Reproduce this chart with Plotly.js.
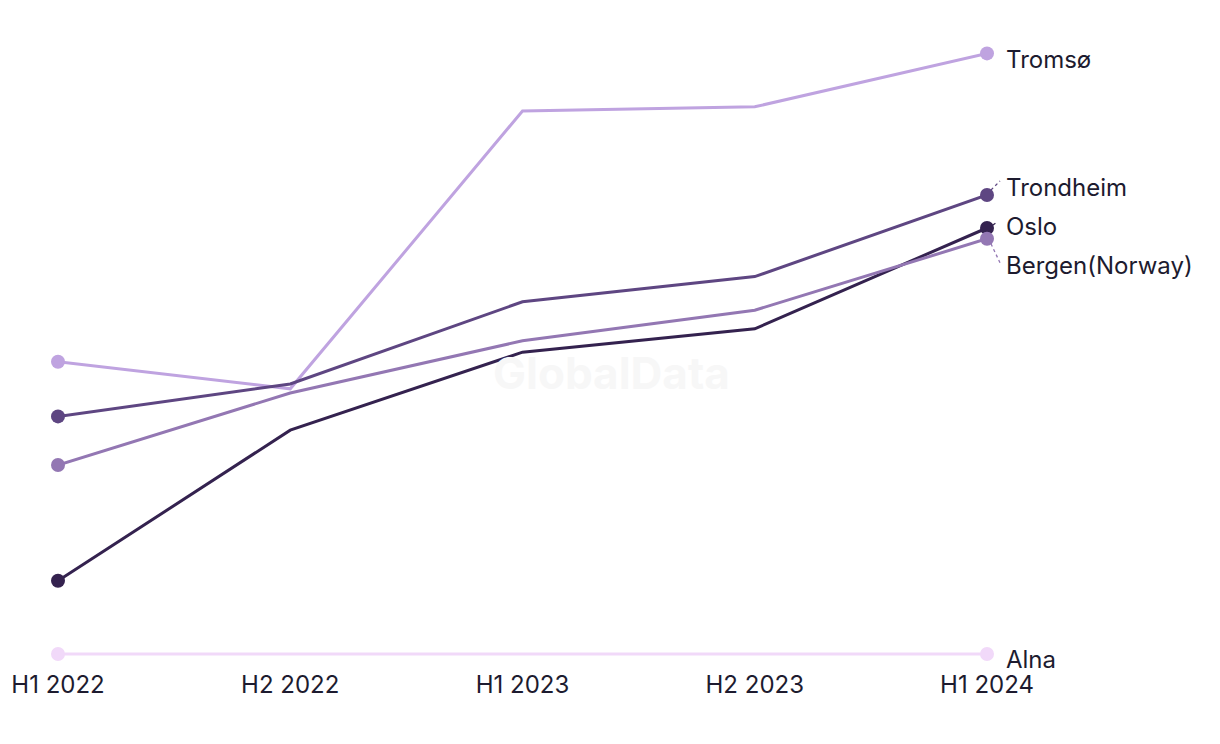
<!DOCTYPE html>
<html>
<head>
<meta charset="utf-8">
<script src="https://cdn.plot.ly/plotly-3.0.1.min.js"></script>
<style>
  html, body { margin: 0; padding: 0; background: #fff; }
  #plot { width: 1220px; height: 744px; }
</style>
</head>
<body>
<div id="plot"></div>
<script>
// half-year periods
var periods = ["H1 2022", "H2 2022", "H1 2023", "H2 2023", "H1 2024"];

// index values (no y axis shown)
var tromso    = [48.7, 44.2, 90.5, 91.2, 100.1];
var trondheim = [39.6, 45.0, 58.7, 62.9, 76.5];
var oslo      = [12.2, 37.3, 50.3, 54.2, 71.0];
var bergen    = [31.5, 43.5, 52.2, 57.3, 69.2];
var alna      = [0, 0, 0, 0, 0];

var names  = ["Tromsø", "Trondheim", "Oslo", "Bergen(Norway)", "Alna"];
var series = [tromso, trondheim, oslo, bergen, alna];
var colors = ["#bfa3e0", "#5e4682", "#34224f", "#9377b3", "#f1d9f9"];

// label nudges in px (positive = up) and whether a dotted leader is drawn
var labelShift = [-6, 8, 2, -27, -5];
var leader     = [false, true, true, true, false];

var FONT = "Inter, 'Noto Sans', sans-serif";
var last = periods.length - 1;
var traces = [];
var annotations = [];
var shapes = [];

series.forEach(function (vals, i) {
  traces.push({
    x: periods,
    y: vals,
    name: names[i],
    type: "scatter",
    mode: "lines+markers",
    line: { color: colors[i], width: 3 },
    marker: {
      color: colors[i],
      opacity: 1,
      line: { width: 0 },
      size: vals.map(function (v, j) { return (j === 0 || j === last) ? 14 : 0; })
    },
    cliponaxis: false,
    hoverinfo: "x+y+name"
  });

  annotations.push({
    x: last, y: vals[last], xref: "x", yref: "y",
    text: names[i], showarrow: false,
    xanchor: "left", yanchor: "middle",
    xshift: 17, yshift: labelShift[i],
    font: { family: FONT, size: 24, color: "#1d1b2f" }
  });

  // last category sits on the right edge of the plot area, so anchor on paper x = 1
  if (leader[i]) {
    var up = labelShift[i] > 0;
    var big = Math.abs(labelShift[i]) > 5;
    shapes.push({
      type: "line", xref: "paper", yref: "y",
      xsizemode: "pixel", ysizemode: "pixel",
      xanchor: 1, yanchor: vals[last],
      x0: big ? 4 : 6, y0: up ? (big ? 5 : 3) : -5,
      x1: big ? 13 : 10, y1: up ? (big ? 14 : 6) : -24,
      line: { color: colors[i], width: 1.3, dash: "dot" }
    });
  }
});

// faint watermark
annotations.push({
  x: 0.596, y: 0.47, xref: "paper", yref: "paper",
  text: "<b>GlobalData</b>", showarrow: false,
  font: { family: FONT, size: 44, color: "#f7f7f7" }
});

var layout = {
  width: 1220,
  height: 744,
  margin: { l: 58, r: 233, t: 42, b: 78 },
  paper_bgcolor: "#ffffff",
  plot_bgcolor: "#ffffff",
  showlegend: false,
  xaxis: {
    type: "category",
    range: [0, last],
    showgrid: false, zeroline: false, showline: false,
    ticks: "",
    ticklabelstandoff: 2,
    tickfont: { family: FONT, size: 24, color: "#1d1b2f" },
    automargin: false
  },
  yaxis: {
    range: [-2, 102],
    showgrid: false, zeroline: false, showline: false,
    showticklabels: false, ticks: ""
  },
  annotations: annotations,
  shapes: shapes
};

Plotly.newPlot("plot", traces, layout, { displayModeBar: false });
</script>
</body>
</html>
